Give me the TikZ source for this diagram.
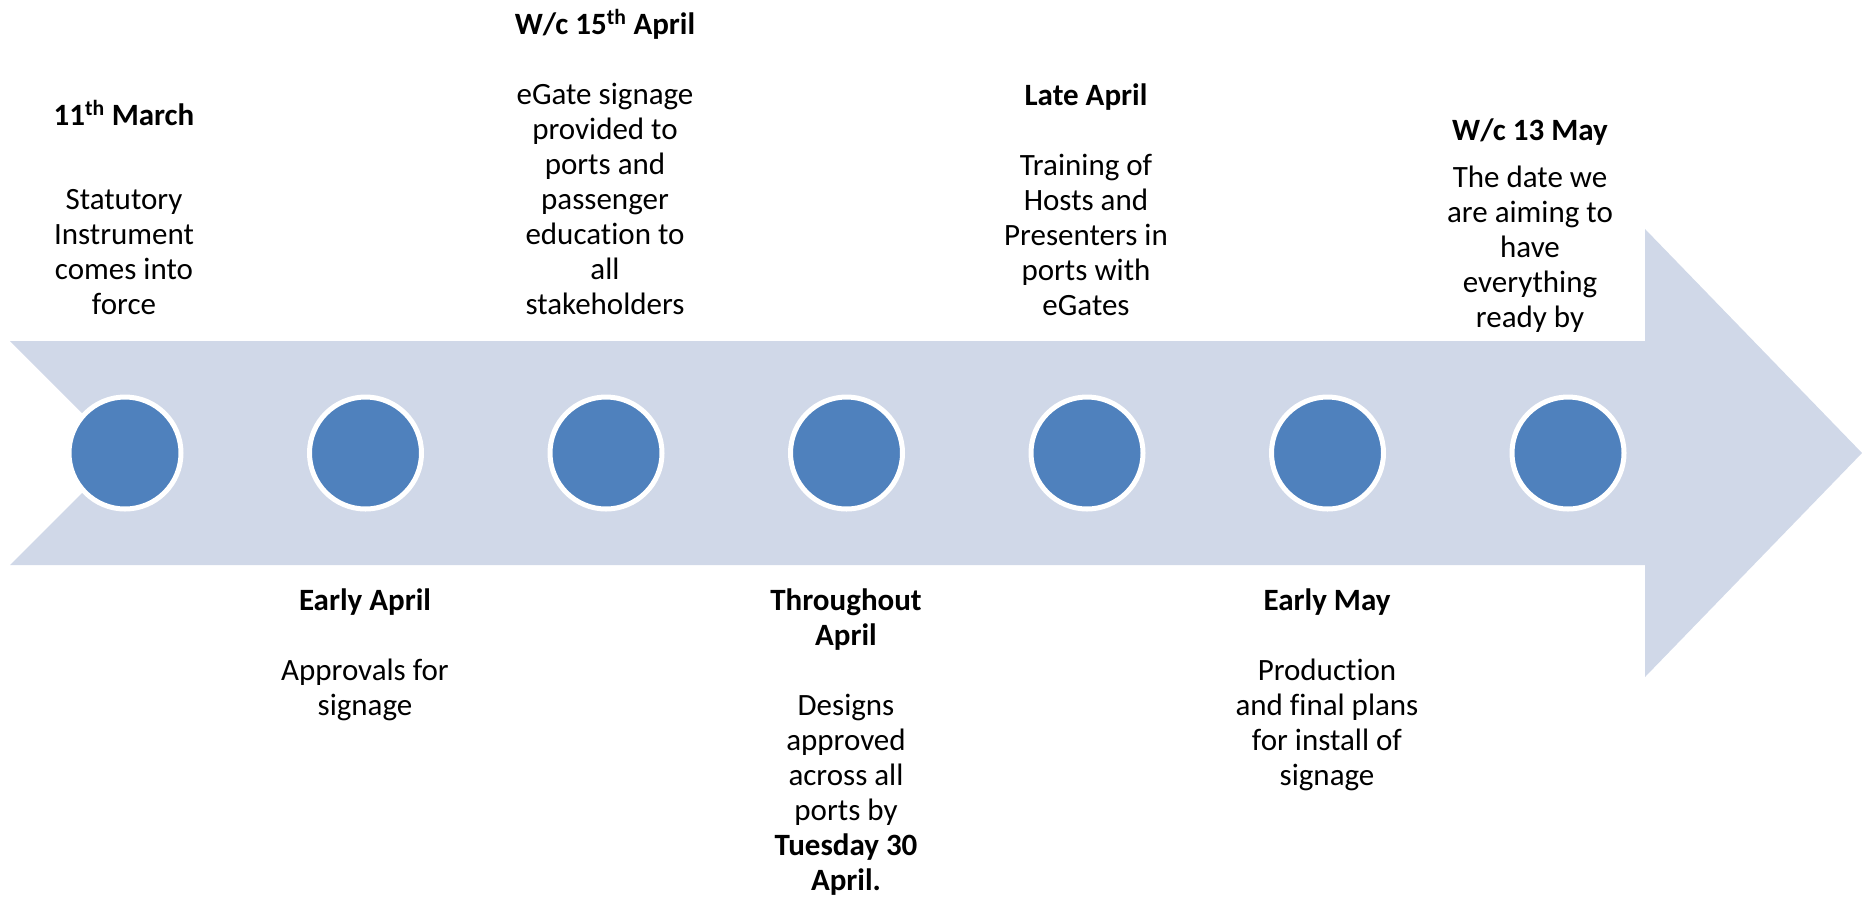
\documentclass[tikz,border=0pt]{standalone}
\usepackage{fontspec}
\setmainfont{Carlito}[Ligatures={NoCommon,TeX}]
\definecolor{shaftcol}{HTML}{D0D8E8}
\definecolor{dotcol}{HTML}{4F81BD}
\begin{document}
\begin{tikzpicture}[x=1pt,y=-1pt,
  dot/.style={circle,draw=white,line width=5pt,fill=dotcol,minimum size=112pt,inner sep=0pt},
  lbl/.style={inner sep=0pt,outer sep=0pt,anchor=base,font=\fontsize{31}{35}\selectfont}]
\useasboundingbox (0,0) rectangle (1862,898);
% big arrow
\fill[shaftcol] (10,341) -- (1645,341) -- (1645,229) -- (1862,453) -- (1645,677) -- (1645,565) -- (10,565) -- (122,453) -- cycle;
% dots
\foreach \i in {0,...,6}{
  \node[dot] (c\i) at ({125+240.5*\i},453) {};
}
% top labels (anchored at last baseline)
\node[lbl] (t1) at (124,314) {\begin{tabular}[b]{@{}c@{}}\textbf{11\textsuperscript{th} March}\\[14pt] \\ Statutory\\ Instrument\\ comes into\\ force\end{tabular}};
\node[lbl] (t3) at (605,314) {\begin{tabular}[b]{@{}c@{}}\textbf{W/c 15\textsuperscript{th} April}\\ \\ eGate signage\\ provided to\\ ports and\\ passenger\\ education to\\ all\\ stakeholders\end{tabular}};
\node[lbl] (t5) at (1086,315) {\begin{tabular}[b]{@{}c@{}}\textbf{Late April}\\ \\ Training of\\ Hosts and\\ Presenters in\\ ports with\\ eGates\end{tabular}};
\node[lbl] (t7) at (1530,327) {\begin{tabular}[b]{@{}c@{}}\textbf{W/c 13 May}\\[12pt] The date we\\ are aiming to\\ have\\ everything\\ ready by\end{tabular}};
% bottom labels (anchored at first baseline)
\node[lbl] (b2) at (365,610) {\begin{tabular}[t]{@{}c@{}}\textbf{Early April}\\ \\ Approvals for\\ signage\end{tabular}};
\node[lbl] (b4) at (846,610) {\begin{tabular}[t]{@{}c@{}}\textbf{Throughout}\\ \textbf{April}\\ \\ Designs\\ approved\\ across all\\ ports by\\ \textbf{Tuesday 30}\\ \textbf{April.}\end{tabular}};
\node[lbl] (b6) at (1327,610) {\begin{tabular}[t]{@{}c@{}}\textbf{Early May}\\ \\ Production\\ and final plans\\ for install of\\ signage\end{tabular}};
\end{tikzpicture}
\end{document}
